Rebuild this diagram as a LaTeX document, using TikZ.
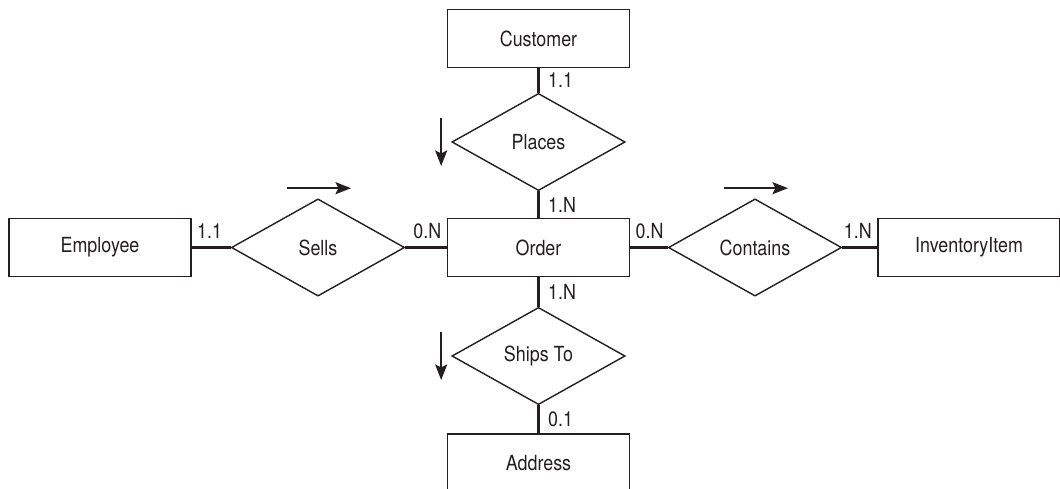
\documentclass[tikz,border=0pt]{standalone}
\usepackage{fontspec}
\setsansfont{TeX Gyre Heros}[FakeStretch=0.86]
\usetikzlibrary{arrows.meta, positioning, shapes.geometric, calc}
\definecolor{cink}{HTML}{231F20}
\tikzset{
  every picture/.style={font=\sffamily\fontsize{14.8}{17}\selectfont, line width=1pt},
  entity/.style={draw=cink, text=cink, minimum width=4.55cm, minimum height=1.45cm, inner sep=0pt},
  relation/.style={draw=cink, text=cink, diamond, minimum width=4.33cm, minimum height=2.43cm, inner sep=0pt},
  link/.style={draw=cink, line width=1.8pt},
  card/.style={text=cink, inner xsep=3pt, inner ysep=5.5pt},
  flow/.style={-{Stealth[length=11pt, width=8.5pt, inset=2pt]}, draw=cink, line width=1.4pt},
}

\begin{document}
\begin{tikzpicture}[x=0.025cm, y=-0.025cm]
  \useasboundingbox (0,0) rectangle (1060,488);
  \node[entity] (customer) at (538.5,38.5) {Customer};
  \node[relation] (places) at (538.5,142) {Places};
  \node[entity] (order) at (538.5,247.5) {Order};
  \node[relation] (ships) at (538.5,356) {Ships To};
  \node[entity] (address) at (538.5,463) {Address};
  \node[entity] (employee) at (100,247.5) {Employee};
  \node[relation] (sells) at (318,247.5) {Sells};
  \node[relation] (contains) at (755,247.5) {Contains};
  \node[entity] (item) at (969,247.5) {InventoryItem};
  % horizontal row
  \draw[link] (employee.east) -- node[card, pos=0, anchor=south west] {1.1} (sells.west);
  \draw[link] (sells.east) -- node[card, pos=1, anchor=south east] {0.N} (order.west);
  \draw[link] (order.east) -- node[card, pos=0, anchor=south west] {0.N} (contains.west);
  \draw[link] (contains.east) -- node[card, pos=1, anchor=south east] {1.N} (item.west);
  % vertical column
  \foreach \f/\t/\c in {customer/places/1.1, places/order/1.N, order/ships/1.N, ships/address/0.1}
    \draw[link] (\f.south) -- node[card, right=3pt] {\c} (\t.north);
  % reading direction
  \foreach \r in {sells, contains}
    \draw[flow] ([shift={(-31,-10)}]\r.north) -- ([shift={(33,-10)}]\r.north);
  \foreach \r in {places, ships}
    \draw[flow] ([shift={(-10,-24)}]\r.west) -- ([shift={(-10,24)}]\r.west);
\end{tikzpicture}
\end{document}
